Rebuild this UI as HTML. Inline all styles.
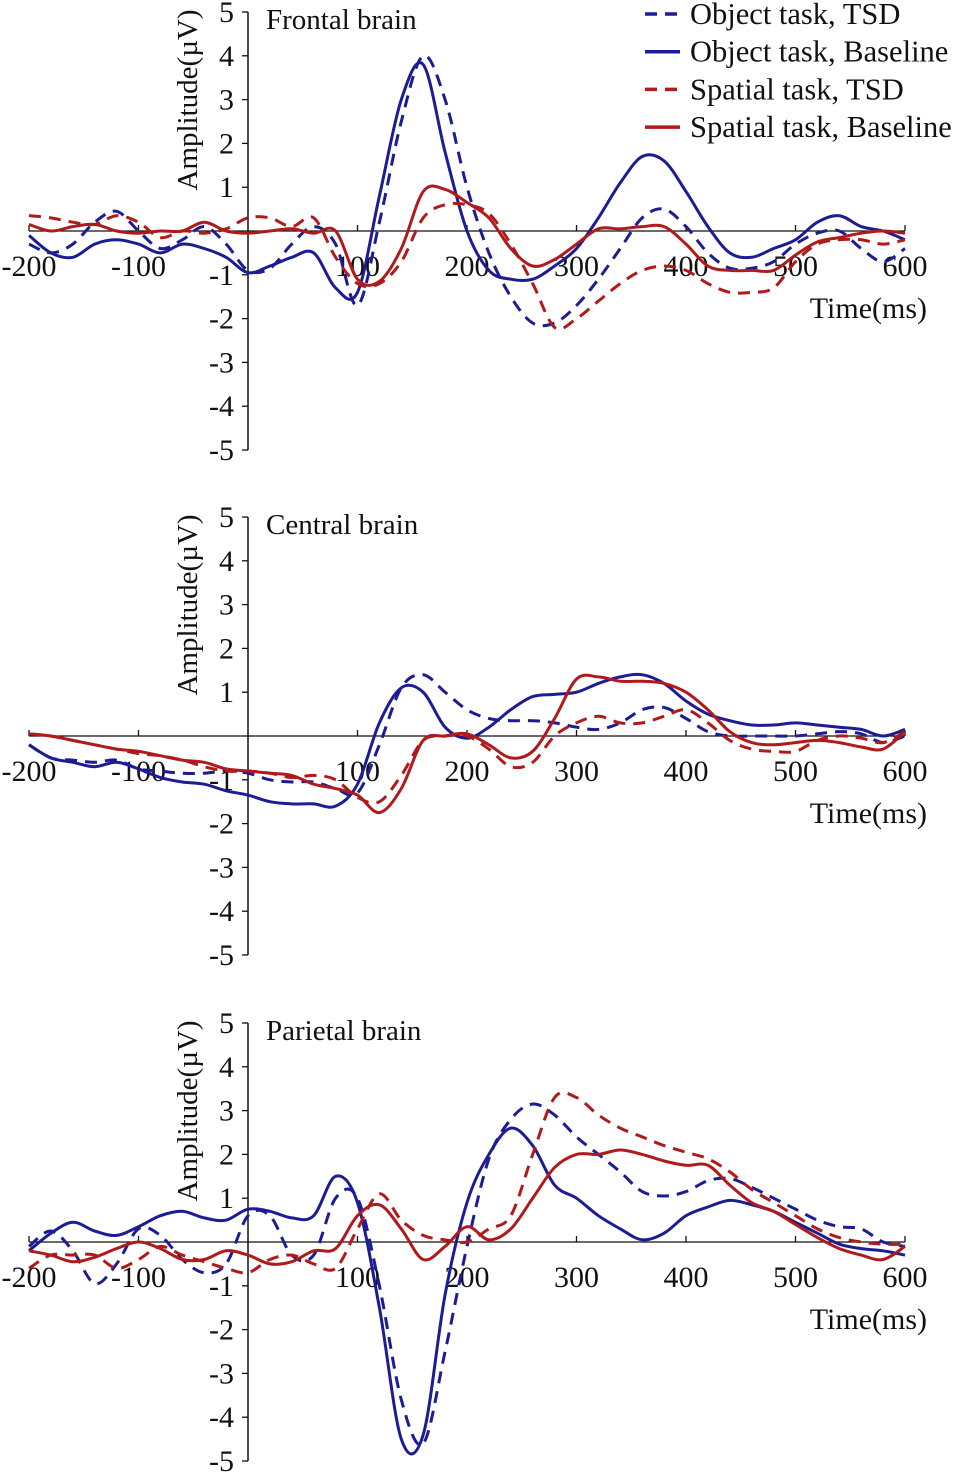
<!DOCTYPE html>
<html><head><meta charset="utf-8"><style>
body{margin:0;background:#fff}
svg{display:block}
text{font-family:"Liberation Serif",serif;fill:#111}
</style></head><body>
<svg id="chart" width="955" height="1475" viewBox="0 0 955 1475" xmlns="http://www.w3.org/2000/svg"></svg>
<script>
const times=[-200,-180,-160,-140,-120,-100,-80,-60,-40,-20,0,20,40,60,80,100,120,140,160,180,200,220,240,260,280,300,320,340,360,380,400,420,440,460,480,500,520,540,560,580,600];
const yTicks=[5,4,3,2,1,-1,-2,-3,-4,-5];
const xTicks=[-200,-100,100,200,300,400,500,600];
const panelTitles=["Frontal brain","Central brain","Parietal brain"];
const seriesNames=["Object task, TSD","Object task, Baseline","Spatial task, TSD","Spatial task, Baseline"];
// Frontal
const f_objTSD=[-0.3,-0.5,-0.3,0.2,0.45,0.0,-0.4,-0.2,0.1,-0.3,-0.9,-0.85,-0.3,0.1,-0.3,-1.7,0.2,2.5,4.0,3.0,1.0,-0.5,-1.5,-2.1,-2.1,-1.7,-1.1,-0.4,0.3,0.5,0.1,-0.5,-0.85,-0.85,-0.7,-0.3,-0.05,0.0,-0.4,-0.7,-0.4];
const f_objBase=[-0.1,-0.5,-0.6,-0.3,-0.2,-0.3,-0.5,-0.3,-0.4,-0.6,-0.95,-0.8,-0.6,-0.5,-1.3,-1.4,0.8,3.0,3.8,1.8,0.0,-0.9,-1.1,-1.1,-0.8,-0.4,0.3,1.1,1.7,1.6,0.9,0.1,-0.5,-0.6,-0.4,-0.2,0.2,0.35,0.1,0.0,-0.2];
const f_spaTSD=[0.35,0.3,0.2,0.15,0.35,0.2,-0.15,0.0,-0.05,0.05,0.3,0.3,0.1,0.3,-0.6,-1.2,-1.2,-0.7,0.3,0.6,0.6,0.4,-0.3,-1.2,-2.2,-2.0,-1.6,-1.2,-0.9,-0.8,-0.9,-1.2,-1.4,-1.4,-1.3,-0.7,-0.3,-0.2,-0.2,-0.3,-0.2];
const f_spaBase=[0.15,0.0,0.1,0.15,0.0,-0.05,0.0,0.0,0.2,0.0,-0.05,0.0,0.05,-0.05,0.0,-1.1,-1.15,-0.4,0.9,0.95,0.65,0.3,-0.4,-0.8,-0.65,-0.3,0.05,0.05,0.1,0.1,-0.3,-0.8,-0.9,-0.9,-0.9,-0.55,-0.25,-0.15,-0.05,0.0,-0.05];
// Central
const c_objTSD=[-0.2,-0.5,-0.55,-0.6,-0.55,-0.75,-0.8,-0.85,-0.85,-0.8,-0.85,-1.0,-1.05,-1.05,-1.2,-1.3,-0.2,1.1,1.4,1.0,0.6,0.4,0.35,0.35,0.3,0.2,0.15,0.3,0.6,0.65,0.4,0.1,0.0,0.0,0.0,0.0,0.05,0.1,0.05,-0.15,0.0];
const c_objBase=[-0.2,-0.5,-0.6,-0.7,-0.6,-0.75,-0.95,-1.05,-1.1,-1.25,-1.35,-1.5,-1.55,-1.55,-1.6,-1.1,0.3,1.1,1.0,0.2,-0.05,0.2,0.6,0.9,0.95,1.0,1.2,1.35,1.4,1.2,0.8,0.5,0.35,0.25,0.25,0.3,0.25,0.2,0.15,0.0,0.15];
const c_spaTSD=[0.05,0.0,-0.1,-0.2,-0.3,-0.4,-0.45,-0.55,-0.7,-0.8,-0.8,-0.85,-0.95,-0.9,-1.0,-1.4,-1.5,-0.9,-0.1,0.0,0.0,-0.3,-0.7,-0.6,0.0,0.3,0.45,0.3,0.3,0.45,0.6,0.3,-0.1,-0.3,-0.35,-0.35,-0.1,0.0,-0.05,-0.15,0.1];
const c_spaBase=[0.05,0.0,-0.1,-0.2,-0.3,-0.35,-0.45,-0.55,-0.6,-0.75,-0.8,-0.85,-0.9,-1.1,-1.2,-1.35,-1.75,-1.2,-0.1,0.0,0.05,-0.2,-0.5,-0.35,0.4,1.3,1.35,1.25,1.25,1.2,1.0,0.6,0.1,-0.15,-0.2,-0.15,-0.1,-0.15,-0.25,-0.3,0.1];
// Parietal
const p_objTSD=[-0.1,0.25,-0.2,-0.95,-0.5,0.3,0.15,-0.4,-0.7,-0.5,0.6,0.6,-0.3,-0.3,1.0,1.0,-1.0,-3.6,-4.6,-2.5,-0.1,1.9,2.8,3.15,2.9,2.4,2.0,1.6,1.15,1.05,1.15,1.4,1.45,1.25,1.0,0.75,0.5,0.35,0.3,0.0,-0.1];
const p_objBase=[-0.2,0.2,0.45,0.25,0.15,0.35,0.6,0.7,0.55,0.5,0.75,0.7,0.55,0.6,1.5,0.9,-1.5,-4.5,-4.4,-1.2,0.9,2.0,2.6,2.2,1.3,1.0,0.6,0.3,0.05,0.2,0.6,0.8,0.95,0.85,0.7,0.45,0.2,-0.05,-0.15,-0.2,-0.3];
const p_spaTSD=[-0.6,-0.3,-0.3,-0.3,-0.6,-0.4,-0.1,-0.3,-0.45,-0.6,-0.7,-0.4,-0.3,-0.5,-0.6,0.3,1.1,0.5,0.15,0.05,0.0,0.3,0.6,2.0,3.3,3.3,2.9,2.6,2.4,2.2,2.05,1.9,1.6,1.2,0.9,0.6,0.3,0.1,0.0,-0.05,-0.05];
const p_spaBase=[-0.2,-0.3,-0.45,-0.35,-0.15,0.0,-0.15,-0.4,-0.4,-0.2,-0.3,-0.5,-0.45,-0.2,-0.15,0.6,0.85,0.3,-0.4,-0.1,0.35,0.05,0.3,1.0,1.7,2.0,2.0,2.1,2.0,1.85,1.75,1.75,1.3,0.9,0.7,0.4,0.1,-0.15,-0.3,-0.4,-0.1];

const panels=[[f_objTSD,f_objBase,f_spaTSD,f_spaBase],[c_objTSD,c_objBase,c_spaTSD,c_spaBase],[p_objTSD,p_objBase,p_spaTSD,p_spaBase]];
const colors=["#1c1c94","#1c1c94","#b01a1a","#b01a1a"];
const dashes=["12 8",null,"12 8",null];
const offsets=[0,505,1011];
const NS="http://www.w3.org/2000/svg";
const svg=document.getElementById('chart');
function mk(tag,attrs,parent,txt){const e=document.createElementNS(NS,tag);for(const k in attrs)e.setAttribute(k,attrs[k]);if(txt!==undefined)e.textContent=txt;parent.appendChild(e);return e;}
const xS=t=>248+(t)*1.095;
panels.forEach((series,pi)=>{
  const oy=offsets[pi];
  const yS=v=>231+oy-v*43.8;
  const g=mk('g',{},svg);
  
  
  const xa=mk('line',{x1:xS(-200),x2:xS(600),y1:yS(0),y2:yS(0),stroke:'#111','stroke-width':1.3},g);
  
  
  const ya=mk('line',{x1:248,x2:248,y1:yS(5),y2:yS(-5),stroke:'#111','stroke-width':1.5},g);
  
  
  yTicks.forEach(v=>{
    mk('line',{x1:242,x2:248,y1:yS(v),y2:yS(v),stroke:'#111','stroke-width':1.3},g);
    const t=mk('text',{x:234,y:yS(v)+10,'text-anchor':'end','font-size':30},g,String(v));
    
    
  });
  xTicks.forEach(v=>{
    mk('line',{x1:xS(v),x2:xS(v),y1:yS(0),y2:yS(0)-6,stroke:'#111','stroke-width':1.3},g);
    const t=mk('text',{x:xS(v),y:yS(0)+45,'text-anchor':'middle','font-size':30},g,String(v));
    
    
  });
  const xt=mk('text',{x:927,y:yS(0)+87,'text-anchor':'end','font-size':30},g,'Time(ms)');
  
  
  const yt=mk('text',{x:0,y:0,'text-anchor':'middle','font-size':29,transform:`translate(197,${100+oy}) rotate(-90)`},g,'Amplitude(µV)');
  
  
  const pt=mk('text',{x:266,y:29+oy,'font-size':29},g,panelTitles[pi]);
  
  
  series.forEach((vals,si)=>{
    const pts=times.map((t,i)=>[xS(t),yS(vals[i])]);
    let d='M'+pts[0][0]+','+pts[0][1];
    for(let i=0;i<pts.length-1;i++){
      const p0=pts[Math.max(0,i-1)],p1=pts[i],p2=pts[i+1],p3=pts[Math.min(pts.length-1,i+2)];
      const c1=[p1[0]+(p2[0]-p0[0])/6,p1[1]+(p2[1]-p0[1])/6];
      const c2=[p2[0]-(p3[0]-p1[0])/6,p2[1]-(p3[1]-p1[1])/6];
      d+=`C${c1[0].toFixed(1)},${c1[1].toFixed(1)} ${c2[0].toFixed(1)},${c2[1].toFixed(1)} ${p2[0].toFixed(1)},${p2[1].toFixed(1)}`;
    }
    const a={d:d,fill:'none',stroke:colors[si],'stroke-width':3,'stroke-linejoin':'round'};
    if(dashes[si])a['stroke-dasharray']=dashes[si];
    const p=mk('path',a,g);
    
    
  });
});
// legend
const lg=mk('g',{},svg);


seriesNames.forEach((n,i)=>{
  const y=14+i*37.7;
  const a={x1:645,x2:680,y1:y,y2:y,stroke:colors[i],'stroke-width':3.5};
  if(dashes[i])a['stroke-dasharray']='12 8';
  mk('line',a,lg);
  const t=mk('text',{x:690,y:y+10,'font-size':30.5},lg,n);
  
  
});
</script>
</body></html>
